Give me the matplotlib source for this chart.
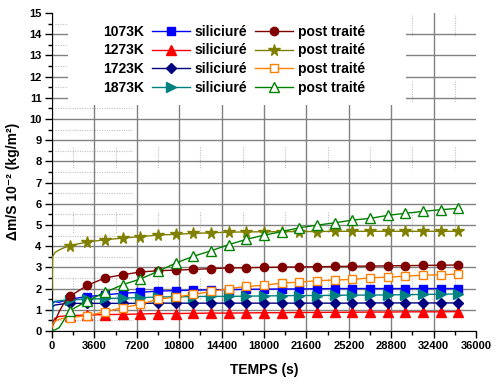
import matplotlib
matplotlib.use("Agg")
import matplotlib.pyplot as plt
from matplotlib.lines import Line2D
from matplotlib.patches import Rectangle
from matplotlib.ticker import MultipleLocator

plt.rcParams['font.family'] = ['Liberation Sans', 'DejaVu Sans']
plt.rcParams['font.weight'] = 'bold'

# time (s): a few early samples, then the marker samples every 1500 s
t_early = [0, 50, 250, 600, 1000]
t_marks = [1500, 3000, 4500, 6000, 7500, 9000, 10500, 12000, 13500, 15000,
           16500, 18000, 19500, 21000, 22500, 24000, 25500, 27000, 28500,
           30000, 31500, 33000, 34500]
temps = t_early + t_marks

# siliciure
sil_1073 = [0.1, 1.3, 1.38, 1.35, 1.42,
            1.5, 1.62, 1.7, 1.78, 1.82, 1.88, 1.9, 1.92, 1.94, 1.95, 1.96, 1.97,
            1.98, 1.98, 1.99, 2.0, 2.0, 2.0, 2.0, 2.0, 2.0, 2.0, 2.0]
sil_1273 = [0.25, 0.4, 0.6, 0.68, 0.7,
            0.72, 0.75, 0.77, 0.78, 0.8, 0.82, 0.82, 0.83, 0.84, 0.84, 0.85, 0.86,
            0.86, 0.87, 0.87, 0.88, 0.88, 0.89, 0.89, 0.9, 0.9, 0.9, 0.91]
sil_1723 = [0.15, 1.15, 1.22, 1.25, 1.28,
            1.3, 1.3, 1.3, 1.3, 1.3, 1.31, 1.31, 1.31, 1.31, 1.31, 1.31, 1.31,
            1.31, 1.31, 1.31, 1.31, 1.31, 1.32, 1.32, 1.32, 1.32, 1.32, 1.32]
sil_1873 = [0.2, 1.35, 1.4, 1.42, 1.44,
            1.46, 1.5, 1.53, 1.55, 1.57, 1.6, 1.61, 1.62, 1.63, 1.63, 1.64, 1.65,
            1.66, 1.67, 1.67, 1.68, 1.69, 1.69, 1.7, 1.71, 1.72, 1.73, 1.75]

# post traite
pt_1073 = [0.1, 0.25, 0.45, 0.9, 1.3,
           1.63, 2.15, 2.5, 2.65, 2.78, 2.84, 2.87, 2.9, 2.94, 2.97, 2.98, 3.0,
           3.01, 3.02, 3.03, 3.04, 3.05, 3.06, 3.07, 3.08, 3.09, 3.1, 3.11]
pt_1273 = [1.9, 3.5, 3.7, 3.82, 3.92,
           4.02, 4.2, 4.3, 4.38, 4.45, 4.52, 4.56, 4.6, 4.63, 4.66, 4.67, 4.68,
           4.68, 4.69, 4.69, 4.7, 4.7, 4.7, 4.7, 4.7, 4.7, 4.7, 4.7]
pt_1723 = [0.15, 0.3, 0.45, 0.55, 0.6,
           0.63, 0.72, 0.9, 1.1, 1.25, 1.5, 1.6, 1.72, 1.86, 1.99, 2.1, 2.15,
           2.26, 2.3, 2.37, 2.4, 2.43, 2.5, 2.54, 2.58, 2.63, 2.65, 2.68]
pt_1873 = [0.05, 0.02, 0.05, 0.15, 0.5,
           0.95, 1.42, 1.82, 2.18, 2.45, 2.81, 3.2, 3.52, 3.78, 4.07, 4.32, 4.52,
           4.68, 4.87, 4.99, 5.1, 5.23, 5.31, 5.45, 5.55, 5.64, 5.72, 5.78]

temp_labels = ['1073K', '1273K', '1723K', '1873K']

fig = plt.figure(figsize=(5.0, 3.83), dpi=100)
ax = fig.add_axes([0.104, 0.136, 0.848, 0.830])

grid_c = '#808080'
dot_c = '#c0c0c0'

# Origin style grid: solid majors, broken dotted minors
ax.set_axisbelow(True)
ax.grid(True, which='major', color=grid_c, lw=1.0, ls='-')
for yv in [0.5 + i for i in range(15)]:
    ax.axhline(yv, xmin=0.007, xmax=0.19, color=dot_c, lw=0.8, ls=(0, (1, 1.2)), zorder=0.5)
for xv in [1800 + 3600 * i for i in range(10)]:
    for ytop in [14.9, 11.8, 8.7, 5.6, 2.5]:
        ax.plot([xv, xv], [ytop, ytop - 1.05], color=dot_c, lw=0.8, ls=(0, (1, 1.2)), zorder=0.5)

series = [
    (sil_1073, dict(color='#0000ff', marker='s', ms=5.5, mfc='#0000ff')),
    (sil_1273, dict(color='#ff0000', marker='^', ms=7, mfc='#ff0000')),
    (sil_1723, dict(color='#000080', marker='D', ms=5, mfc='#000080')),
    (sil_1873, dict(color='#008080', marker='>', ms=7, mfc='#008080')),
    (pt_1073, dict(color='#800000', marker='o', ms=6, mfc='#800000')),
    (pt_1273, dict(color='#808000', marker='*', ms=8.5, mfc='#808000')),
    (pt_1723, dict(color='#ff8000', marker='s', ms=6, mfc='white')),
    (pt_1873, dict(color='#008000', marker='^', ms=7.5, mfc='white')),
]
handles = []
for vals, st in series:
    ln, = ax.plot(temps, vals, lw=1.0, mew=1.0, mec=st['color'],
                  markevery=slice(len(t_early), None), zorder=3, **st)
    handles.append(ln)

ax.set_xlim(0, 36000)
ax.set_ylim(0, 15)
ax.xaxis.set_major_locator(MultipleLocator(3600))
ax.xaxis.set_minor_locator(MultipleLocator(1800))
ax.yaxis.set_major_locator(MultipleLocator(1))
ax.yaxis.set_minor_locator(MultipleLocator(0.5))

fig.canvas.draw()
for tk in ax.yaxis.get_major_ticks():
    if abs(tk.get_loc() - 15) < 1e-6:
        tk.gridline.set_visible(False)
for tk in ax.xaxis.get_major_ticks():
    if abs(tk.get_loc() - 36000) < 1e-6:
        tk.gridline.set_visible(False)

ax.spines['top'].set_visible(False)
ax.spines['right'].set_visible(False)
ax.tick_params(which='major', direction='out', length=5, width=1, labelsize=8, pad=2.5)
ax.tick_params(which='minor', direction='out', length=3, width=1)
for lab in ax.get_xticklabels() + ax.get_yticklabels():
    lab.set_fontweight('bold')

ax.set_xlabel('TEMPS (s)', fontsize=10, fontweight='bold')
ax.set_ylabel('Δm/S 10⁻² (kg/m²)', fontsize=10, fontweight='bold')
ax.xaxis.set_label_coords(0.5, -0.1)
ax.yaxis.set_label_coords(-0.075, 0.47)

# white box behind the legend (covers the grid like Origin)
ax.add_patch(Rectangle((0.038, 0.711), 0.797, 0.29, transform=ax.transAxes,
                       facecolor='white', edgecolor='none', zorder=2.5, clip_on=False))

blank = [Line2D([], [], alpha=0) for _ in temp_labels]
leg_handles = blank + handles[:4] + handles[4:]
leg_labels = temp_labels + ['siliciuré'] * 4 + ['post traité'] * 4
leg = ax.legend(leg_handles, leg_labels, ncol=3, loc='upper left',
                bbox_to_anchor=(0.019, 0.963), borderaxespad=0, borderpad=0,
                frameon=False, numpoints=1, handlelength=2.75, handletextpad=0.35,
                columnspacing=0.55, labelspacing=0.33, prop=dict(size=10, weight='bold'))
leg.set_zorder(5)

fig.savefig('out.png', dpi=100)
